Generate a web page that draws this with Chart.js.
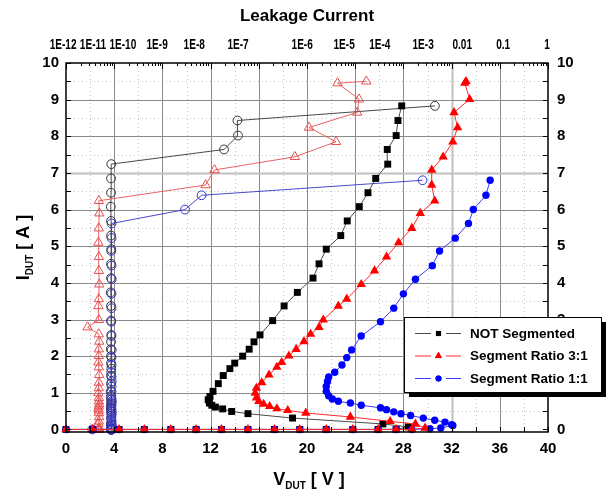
<!DOCTYPE html>
<html>
<head>
<meta charset="utf-8">
<script src="https://cdn.jsdelivr.net/npm/chart.js@4.4.1/dist/chart.umd.min.js"></script>
<style>
  html, body { margin: 0; padding: 0; background: #fff; }
</style>
</head>
<body>
<canvas id="chart" width="609" height="495"></canvas>
<script>
/* ─── Data ─── */
// NOT Segmented: current, voltage, leakage (one entry per pulse)
const notSegI = [0, 0, 0, 0, 0, 0, 0, 0, 0, 0, 0, 0, 0, 0,
  0.07, 0.15, 0.31, 0.43, 0.49, 0.56, 0.61, 0.66, 0.72, 0.81, 0.90, 1.04, 1.25, 1.47, 1.66,
  1.81, 2.00, 2.19, 2.39, 2.58, 2.97, 3.37, 3.74, 4.13, 4.52, 4.92, 5.29, 5.69, 6.08, 6.46,
  6.85, 7.24, 7.64, 8.02, 8.43, 8.83];
const notSegV = [0, 2.2, 4.4, 6.5, 8.7, 10.8, 12.9, 15.1, 17.3, 19.4, 21.6, 23.8, 25.9, 27.4,
  28.4, 26.3, 18.8, 15.1, 13.75, 13.0, 12.4, 12.1, 11.9, 11.8, 11.95, 12.2, 12.64, 13.05, 13.6,
  14.0, 14.66, 15.2, 15.6, 16.1, 17.15, 18.1, 19.2, 20.5, 21.0, 21.6, 22.8, 23.34, 24.34, 25.06,
  25.7, 26.7, 26.66, 27.4, 27.55, 27.86];
const notSegLeak = [8.6e-10, 8.5e-10, 8.7e-10, 8.6e-10, 8.6e-10, 8.5e-10, 8.7e-10, 8.6e-10, 8.6e-10, 8.7e-10,
  8.5e-10, 8.6e-10, 8.6e-10, 8.7e-10, 8.6e-10, 8.5e-10, 8.6e-10, 8.7e-10, 8.6e-10, 8.6e-10,
  8.5e-10, 8.6e-10, 8.7e-10, 8.6e-10, 8.6e-10, 8.5e-10, 8.6e-10, 8.6e-10, 8.7e-10, 8.6e-10,
  8.6e-10, 8.5e-10, 8.6e-10, 8.7e-10, 8.6e-10, 8.6e-10, 8.5e-10, 8.6e-10, 8.6e-10, 8.7e-10,
  8.6e-10, 8.6e-10, 8.5e-10, 8.6e-10, 8.6e-10, 8.7e-10, 1.9e-7, 3.7e-7, 3.6e-7, 4.5e-3];

// Segment Ratio 3:1
const seg31I = [0, 0, 0, 0, 0, 0, 0, 0, 0, 0, 0, 0, 0, 0, 0,
  0.04, 0.15, 0.22, 0.34, 0.45, 0.52, 0.57, 0.63, 0.69, 0.77, 0.86, 0.99, 1.13, 1.28, 1.49,
  1.70, 1.83, 2.01, 2.19, 2.40, 2.60, 2.79, 2.99, 3.37, 3.56, 3.96, 4.33, 4.71, 5.10, 5.49,
  5.90, 6.24, 6.67, 7.08, 7.44, 7.85, 8.24, 8.65, 9.01, 9.45, 9.50];
const seg31V = [0, 2.2, 4.4, 6.5, 8.7, 10.8, 12.9, 15.1, 17.3, 19.4, 21.6, 23.8, 25.9, 27.4, 28.7,
  29.8, 29.0, 26.9, 23.6, 19.9, 18.4, 17.5, 16.9, 16.4, 16.0, 15.8, 15.7, 15.8, 16.25, 16.85,
  17.5, 17.9, 18.5, 19.1, 19.75, 20.3, 21.0, 21.35, 22.6, 23.3, 24.5, 25.6, 26.6, 27.6, 28.7,
  29.4, 30.6, 30.35, 30.35, 31.3, 32.1, 32.5, 32.2, 33.5, 33.1, 33.2];
const seg31Leak = [4.8e-10, 4.7e-10, 4.9e-10, 4.8e-10, 4.8e-10, 4.7e-10, 4.8e-10, 4.9e-10, 4.8e-10, 4.8e-10,
  4.7e-10, 4.8e-10, 4.9e-10, 4.8e-10, 4.8e-10,
  4.8e-10, 4.7e-10, 4.8e-10, 4.9e-10, 4.8e-10, 4.8e-10, 4.7e-10, 4.8e-10, 4.9e-10, 4.8e-10,
  4.8e-10, 4.7e-10, 4.8e-10, 4.8e-10, 4.9e-10, 4.8e-10, 4.7e-10, 4.8e-10, 4.8e-10, 4.9e-10,
  4.8e-10, 2.8e-10, 4.8e-10, 4.7e-10, 4.8e-10, 4.9e-10, 4.8e-10, 4.8e-10, 4.7e-10, 4.8e-10,
  4.9e-10, 4.8e-10, 7.9e-8, 1.2e-7, 5.6e-6, 4.0e-5, 1.1e-5, 1.1e-4, 1.2e-4, 4.3e-5, 1.7e-4];

// Segment Ratio 1:1
const seg11I = [0, 0, 0, 0, 0, 0, 0, 0, 0, 0, 0, 0, 0, 0, 0,
  0.02, 0.04, 0.11, 0.13, 0.20, 0.25, 0.31, 0.38, 0.43, 0.48, 0.54, 0.59, 0.66, 0.72, 0.77,
  0.83, 0.92, 1.04, 1.17, 1.31, 1.43, 1.56, 1.76, 1.96, 2.17, 2.55, 2.94, 3.31, 3.70, 4.10,
  4.47, 4.87, 5.22, 5.62, 6.00, 6.39, 6.80];
const seg11V = [0, 2.2, 4.4, 6.5, 8.7, 10.8, 12.9, 15.1, 17.3, 19.4, 21.6, 23.8, 25.9, 27.4, 28.7,
  30.2, 31.1, 32.1, 32.0, 31.45, 30.6, 29.65, 28.6, 27.8, 27.2, 26.6, 26.1, 24.5, 23.6, 22.6,
  22.1, 21.8, 21.6, 21.6, 21.7, 21.8, 22.3, 22.9, 23.3, 23.7, 24.5, 26.1, 27.2, 28.0, 29.0,
  30.4, 31.0, 32.3, 33.4, 33.8, 34.85, 35.2];
const seg11Leak = [8.8e-10, 3.5e-10, 8.7e-10, 8.8e-10, 8.8e-10, 8.9e-10, 8.8e-10, 8.7e-10, 8.8e-10, 8.8e-10,
  8.9e-10, 8.8e-10, 8.7e-10, 8.8e-10, 8.8e-10,
  8.8e-10, 8.7e-10, 8.8e-10, 8.9e-10, 8.8e-10, 8.8e-10, 8.7e-10, 8.8e-10, 8.8e-10, 8.9e-10,
  8.8e-10, 8.7e-10, 8.8e-10, 8.8e-10, 8.9e-10, 8.8e-10, 8.7e-10, 8.8e-10, 8.8e-10, 8.9e-10,
  8.8e-10, 8.7e-10, 8.8e-10, 8.8e-10, 8.9e-10, 8.8e-10, 8.7e-10, 8.8e-10, 8.8e-10, 8.9e-10,
  8.8e-10, 8.7e-10, 8.8e-10, 8.8e-10, 2.95e-8, 6.5e-8, 2.5e-3];

const legendLabels = ['NOT Segmented', 'Segment Ratio 3:1', 'Segment Ratio 1:1'];

/* ─── Axis text ─── */
const yTicks = [0, 1, 2, 3, 4, 5, 6, 7, 8, 9, 10];
// top labels as printed; they sit where the original figure put them (exponent on the top axis)
const topLabels  = ['1E-12', '1E-11', '1E-10', '1E-9', '1E-8', '1E-7', '1E-6', '1E-5', '1E-4', '1E-3', '0.01', '0.1', '1'];
const topLabelAt = [-10.06, -9.44, -8.82, -8.11, -7.34, -6.43, -5.10, -4.23, -3.49, -2.59, -1.78, -0.93, -0.02];

/* ─── Styles ─── */
const SANS = "'Liberation Sans', Arial, sans-serif";
const COL = {
  black: '#000000', blackLine: '#4a4a4a',
  red: '#ff0000',   redLine: '#ff2a2a',  redOpen: '#e65050',
  blue: '#0000ff',  blueLine: '#3a3aff', blueOpen: '#3434c8',
};

function pts(xs, ys) { return xs.map((v, k) => ({ x: v, y: ys[k] })); }

// bold text squeezed horizontally, like the narrow face of the original
function narrowText(ctx, text, cx, cy, size, squeeze) {
  ctx.save();
  ctx.font = `bold ${size}px ${SANS}`;
  ctx.textAlign = 'center';
  ctx.textBaseline = 'middle';
  ctx.translate(cx, cy);
  ctx.scale(squeeze, 1);
  ctx.fillText(text, 0, 0);
  ctx.restore();
}

/* ─── Grid, frame, ticks, legend, titles ─── */
const framePlugin = {
  id: 'frame',
  beforeDatasetsDraw(chart) {
    const { ctx, chartArea: a, scales: { x, y } } = chart;
    const vline = px => { ctx.beginPath(); ctx.moveTo(px, a.top); ctx.lineTo(px, a.bottom); ctx.stroke(); };
    const hline = py => { ctx.beginPath(); ctx.moveTo(a.left, py); ctx.lineTo(a.right, py); ctx.stroke(); };
    ctx.save();
    ctx.lineWidth = 1;
    ctx.strokeStyle = '#c4c4c4';
    ctx.setLineDash([1, 3]);
    for (let v = 2; v < 40; v += 4) vline(Math.round(x.getPixelForValue(v)) + 0.5);
    for (let i = 0.5; i < 10; i += 1) hline(Math.round(y.getPixelForValue(i)) + 0.5);
    ctx.setLineDash([]);
    for (let v = 4; v < 40; v += 4) {
      ctx.strokeStyle = v === 32 ? '#c0c0c0' : '#8a8a8a';
      ctx.lineWidth = v === 32 ? 2 : 1;
      vline(Math.round(x.getPixelForValue(v)) + 0.5);
    }
    for (let i = 1; i < 10; i += 1) {
      ctx.strokeStyle = i === 7 ? '#c0c0c0' : '#8a8a8a';
      ctx.lineWidth = i === 7 ? 2 : 1;
      hline(Math.round(y.getPixelForValue(i)) + 0.5);
    }
    ctx.restore();
  },
  afterDatasetsDraw(chart) {
    const { ctx, chartArea: a, scales: { x, y, x2 } } = chart;
    const seg = (x1, y1, x2_, y2) => { ctx.beginPath(); ctx.moveTo(x1, y1); ctx.lineTo(x2_, y2); ctx.stroke(); };
    ctx.save();
    ctx.strokeStyle = '#000';
    ctx.lineWidth = 1;
    for (let i = 0; i <= 10; i += 0.5) {
      const py = Math.round(y.getPixelForValue(i)) + 0.5;
      seg(a.left, py, a.left + 5, py);
      seg(a.right, py, a.right - 5, py);
    }
    for (let v = 0; v <= 40; v += 2) {
      const px = Math.round(x.getPixelForValue(v)) + 0.5;
      seg(px, a.bottom, px, a.bottom - 5);
    }
    for (let d = -10; d <= 0; d++) {
      const px = Math.round(x2.getPixelForValue(Math.pow(10, d))) + 0.5;
      seg(px, a.top, px, a.top + 6);
      if (d === 0) break;
      for (let m = 2; m <= 9; m++) {
        const pm = Math.round(x2.getPixelForValue(m * Math.pow(10, d))) + 0.5;
        seg(pm, a.top, pm, a.top + 3);
      }
    }
    ctx.lineWidth = 1.5;
    ctx.strokeRect(a.left, a.top, a.right - a.left, a.bottom - a.top);
    ctx.restore();
  },
  afterDraw(chart) {
    const { ctx, chartArea: a, scales: { x2 } } = chart;
    ctx.save();

    // top axis labels, placed through the top scale
    ctx.fillStyle = '#000';
    topLabels.forEach((t, k) => {
      narrowText(ctx, t, x2.getPixelForValue(Math.pow(10, topLabelAt[k])), 45, 14, 0.72);
    });

    // legend box with drop shadow
    const bx = 404, by = 317, bw = 197, bh = 75;
    ctx.fillStyle = '#000';
    ctx.fillRect(bx + 5, by + 5, bw, bh);
    ctx.fillStyle = '#fff';
    ctx.fillRect(bx, by, bw, bh);
    ctx.strokeStyle = '#000';
    ctx.lineWidth = 1;
    ctx.strokeRect(bx + 0.5, by + 0.5, bw, bh);

    const rows = [
      { line: COL.blackLine, fill: COL.black, style: 'rect', r: 3.6 },
      { line: COL.redLine,   fill: COL.red,   style: 'triangle', r: 4.2 },
      { line: COL.blueLine,  fill: COL.blue,  style: 'circle', r: 3 },
    ];
    ctx.font = `bold 13.5px ${SANS}`;
    ctx.textBaseline = 'middle';
    ctx.textAlign = 'left';
    rows.forEach((r, k) => {
      const cy = 333.5 + k * 22.5;
      ctx.strokeStyle = r.line;
      ctx.lineWidth = 1;
      ctx.beginPath();
      ctx.moveTo(415, cy); ctx.lineTo(431, cy);
      ctx.moveTo(446, cy); ctx.lineTo(461, cy);
      ctx.stroke();
      ctx.fillStyle = r.fill;
      Chart.helpers.drawPoint(ctx, { pointStyle: r.style, radius: r.r, borderWidth: 0 }, 438.5, cy);
      ctx.fill();
      ctx.fillStyle = '#000';
      ctx.fillText(legendLabels[k], 470, cy + 0.5);
    });

    // axis titles
    const cx = (a.left + a.right) / 2;
    ctx.fillStyle = '#000';
    ctx.textAlign = 'center';
    ctx.textBaseline = 'middle';
    ctx.font = `bold 17px ${SANS}`;
    ctx.fillText('Leakage Current', cx, 16);

    const drawSub = (main, sub, tail, ox, oy) => {
      ctx.textAlign = 'left';
      ctx.textBaseline = 'alphabetic';
      ctx.font = `bold 18px ${SANS}`;
      const w1 = ctx.measureText(main).width;
      ctx.font = `bold 10px ${SANS}`;
      const w2 = ctx.measureText(sub).width;
      ctx.font = `bold 18px ${SANS}`;
      const w3 = ctx.measureText(tail).width;
      let px = ox - (w1 + w2 + w3) / 2;
      ctx.fillText(main, px, oy);
      px += w1;
      ctx.font = `bold 10px ${SANS}`;
      ctx.fillText(sub, px, oy + 4);
      px += w2;
      ctx.font = `bold 18px ${SANS}`;
      ctx.fillText(tail, px, oy);
    };
    drawSub('V', 'DUT', ' [ V ]', cx + 2, 485);
    ctx.save();
    ctx.translate(29, (a.top + a.bottom) / 2);
    ctx.rotate(-Math.PI / 2);
    drawSub('I', 'DUT', ' [ A ]', 0, 0);
    ctx.restore();

    ctx.restore();
  },
};

/* ─── Datasets ─── */
const filled = (label, xs, ys, color, line, style, r, order) => ({
  label, data: pts(xs, ys), xAxisID: 'x', yAxisID: 'y', order,
  showLine: true, borderColor: line, borderWidth: 1, backgroundColor: color,
  pointStyle: style, pointRadius: r, pointBorderWidth: 0, pointBackgroundColor: color,
  clip: false,
});
const open = (label, xs, ys, color, style, r, order) => ({
  label, data: pts(xs, ys), xAxisID: 'x2', yAxisID: 'y', order,
  showLine: true, borderColor: color, borderWidth: 0.9, backgroundColor: 'rgba(0,0,0,0)',
  pointStyle: style, pointRadius: r, pointBorderWidth: 1, pointBorderColor: color,
  pointBackgroundColor: 'rgba(0,0,0,0)', clip: false,
});

const datasets = [
  filled(legendLabels[1], seg31V, seg31I, COL.red, COL.redLine, 'triangle', 5.4, 1),
  filled(legendLabels[2], seg11V, seg11I, COL.blue, COL.blueLine, 'circle', 3.7, 2),
  filled(legendLabels[0], notSegV, notSegI, COL.black, COL.blackLine, 'rect', 4.9, 3),
  open(legendLabels[2] + ' leakage', seg11Leak, seg11I, COL.blueOpen, 'circle', 4.4, 4),
  open(legendLabels[1] + ' leakage', seg31Leak, seg31I, COL.redOpen, 'triangle', 5.4, 5),
  open(legendLabels[0] + ' leakage', notSegLeak, notSegI, '#333333', 'circle', 4.4, 6),
];

const tickFont = { family: SANS, size: 15, weight: 'bold' };

const yAxis = (position, width, padding) => ({
  type: 'linear', position, min: -0.07, max: 10,
  afterBuildTicks: s => { s.ticks = yTicks.map(v => ({ value: v })); },
  ticks: { color: '#000', font: tickFont, padding, autoSkip: false },
  grid: { display: false, drawTicks: false }, border: { display: false },
  afterFit: s => { s.width = width; s.paddingTop = 0; s.paddingBottom = 0; },
});

new Chart(document.getElementById('chart'), {
  type: 'scatter',
  data: { datasets },
  options: {
    responsive: false,
    animation: false,
    layout: { padding: 0 },
    plugins: { legend: { display: false }, tooltip: { enabled: false } },
    scales: {
      x: {
        type: 'linear', position: 'bottom', min: 0, max: 40,
        ticks: { stepSize: 4, color: '#000', font: tickFont, padding: 8, maxRotation: 0, autoSkip: false },
        grid: { display: false, drawTicks: false }, border: { display: false },
        afterFit: s => { s.height = 63; s.paddingLeft = 0; s.paddingRight = 0; },
      },
      x2: {
        type: 'logarithmic', position: 'top', min: 1e-10, max: 1,
        ticks: { display: false },
        grid: { display: false, drawTicks: false }, border: { display: false },
        afterFit: s => { s.height = 63; s.paddingLeft = 0; s.paddingRight = 0; },
      },
      y:  yAxis('left', 66, 7),
      y2: yAxis('right', 61, 9),
    },
  },
  plugins: [framePlugin],
});
</script>
</body>
</html>
